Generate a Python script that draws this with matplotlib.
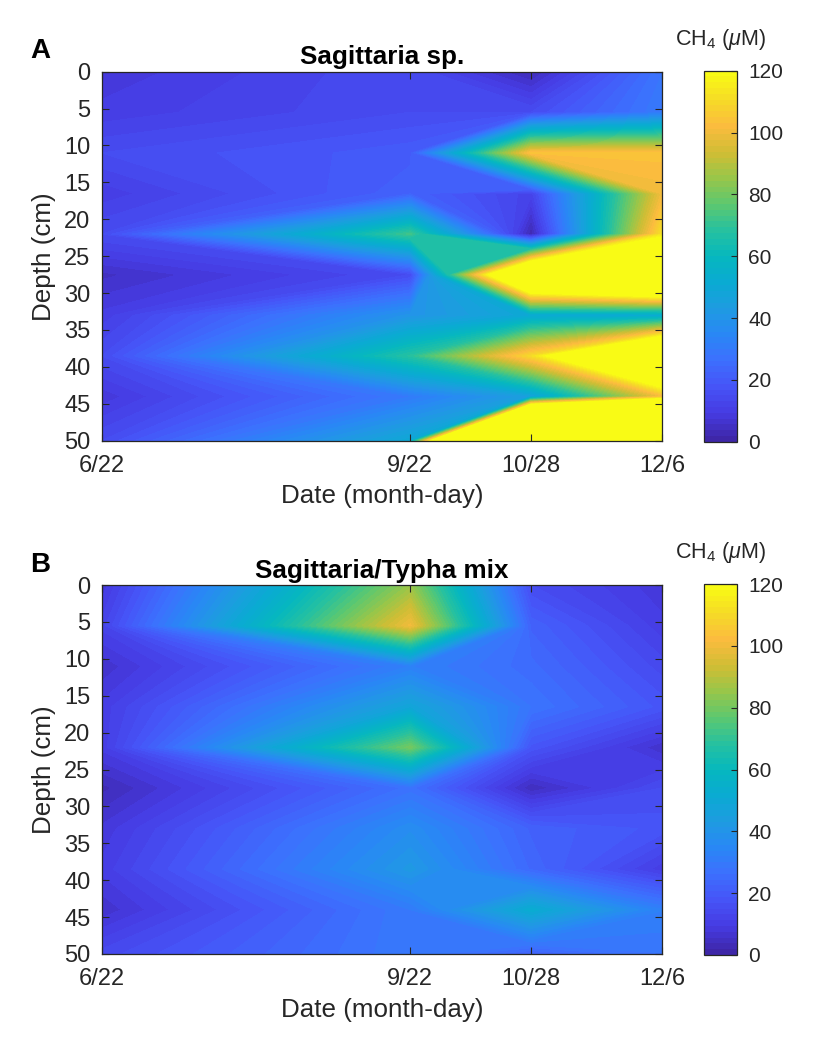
import numpy as np
import matplotlib
matplotlib.use("Agg")
import matplotlib.pyplot as plt
from matplotlib.colors import LinearSegmentedColormap, ListedColormap, Normalize
from matplotlib.cm import ScalarMappable

plt.rcParams['font.family'] = ['Liberation Sans', 'DejaVu Sans']
plt.rcParams['mathtext.fontset'] = 'custom'
plt.rcParams['mathtext.rm'] = 'Liberation Sans'
plt.rcParams['mathtext.it'] = 'Liberation Sans:italic'

# sampling dates (day of year) and depths (cm)
date_doy = [173, 265, 301, 340]
date_labels = ['6/22', '9/22', '10/28', '12/6']
depth = [0, 5.5, 11, 16.5, 22, 27.5, 33, 38.5, 44, 50]

# CH4 (uM), one list per date, top to bottom
sag_622 = [8, 10, 15, 10, 15, 5, 10, 15, 8, 15]
sag_922 = [15, 15, 20, 22, 72, 15, 40, 68, 30, 50]
sag_1028 = [3, 15, 104, 12, 2, 175, 50, 110, 45, 450]
sag_126 = [28, 30, 104, 100, 112, 200, 50, 182, 100, 450]

mix_622 = [8, 12, 6, 10, 10, 3, 8, 10, 6, 14]
mix_922 = [85, 100, 32, 48, 80, 27, 37, 42, 30, 30]
mix_1028 = [15, 22, 25, 28, 18, 4, 22, 24, 52, 22]
mix_126 = [8, 10, 14, 18, 6, 15, 18, 10, 32, 28]

# parula-like colormap, 64 steps like matlab
_anchors = [
    (0.2422, 0.1504, 0.6603), (0.2750, 0.2330, 0.8900), (0.2760, 0.3300, 0.9700),
    (0.2350, 0.4400, 0.9950), (0.1630, 0.5290, 0.9630), (0.1180, 0.6100, 0.8820),
    (0.0380, 0.6700, 0.8230), (0.0200, 0.7200, 0.7450), (0.1500, 0.7560, 0.6270),
    (0.3650, 0.7840, 0.4350), (0.6000, 0.7760, 0.2870), (0.8150, 0.7420, 0.2040),
    (0.9850, 0.7350, 0.2450), (0.9630, 0.8600, 0.1500), (0.9769, 0.9839, 0.0805),
]
_smooth = LinearSegmentedColormap.from_list('parula_ish', _anchors)
parula = ListedColormap(_smooth(np.linspace(0, 1, 64)))
norm = Normalize(0, 120)
levels = np.append(np.linspace(0, 120, 65), 1000)

W, H = 813, 1059
fig = plt.figure(figsize=(W / 100, H / 100), dpi=100)
dark = '#262626'


def box(l, t, r, b):
    return [l / W, 1 - b / H, (r - l) / W, (b - t) / H]


panels = [
    ('A', 'Sagittaria sp.', [sag_622, sag_922, sag_1028, sag_126], 71.7),
    ('B', 'Sagittaria/Typha mix', [mix_622, mix_922, mix_1028, mix_126], 585),
]

for letter, title, cols, top in panels:
    bottom = top + 369
    ax = fig.add_axes(box(101.7, top, 662, bottom))
    Z = np.array(cols).T
    ax.contourf(date_doy, depth, Z, levels=levels, cmap=parula, norm=norm)
    ax.set_xlim(date_doy[0], date_doy[-1])
    ax.set_ylim(50, 0)
    ax.set_xticks(date_doy)
    ax.set_xticklabels(date_labels)
    ax.set_yticks(range(0, 51, 5))
    ax.tick_params(direction='in', top=True, right=True, length=5, width=0.8,
                   labelsize=17, colors=dark, labelcolor=dark)
    ax.tick_params(axis='y', pad=8)
    ax.tick_params(axis='x', pad=10)
    for s in ax.spines.values():
        s.set_color(dark)
        s.set_linewidth(0.9)
    ax.set_ylabel('Depth (cm)', fontsize=18.7, color=dark)
    ax.yaxis.set_label_coords(-0.082, 0.5)
    ax.set_xlabel('Date (month-day)', fontsize=18.7, color=dark)
    ax.xaxis.set_label_coords(0.5, -0.118)
    ax.text(0.5, 1.02, title, transform=ax.transAxes, ha='center', va='baseline',
            fontsize=18.7, fontweight='bold')
    fig.text(30 / W, 1 - (top - 13.5) / H, letter, ha='left', va='baseline',
             fontsize=20, fontweight='bold')

    cax = fig.add_axes(box(704, top - 1, 737, bottom + 1))
    cb = fig.colorbar(ScalarMappable(norm=norm, cmap=parula), cax=cax,
                      ticks=range(0, 121, 20))
    cb.outline.set_edgecolor(dark)
    cb.outline.set_linewidth(0.9)
    cax.tick_params(direction='in', length=4, width=0.8, labelsize=15, pad=8,
                    colors=dark, labelcolor=dark)
    fig.text(720 / W, 1 - (top - 27) / H, r'CH$_4$ ($\mathit{\mu}$M)', ha='center',
             va='baseline', fontsize=15.5, color=dark)

fig.savefig('out.png', dpi=100)
